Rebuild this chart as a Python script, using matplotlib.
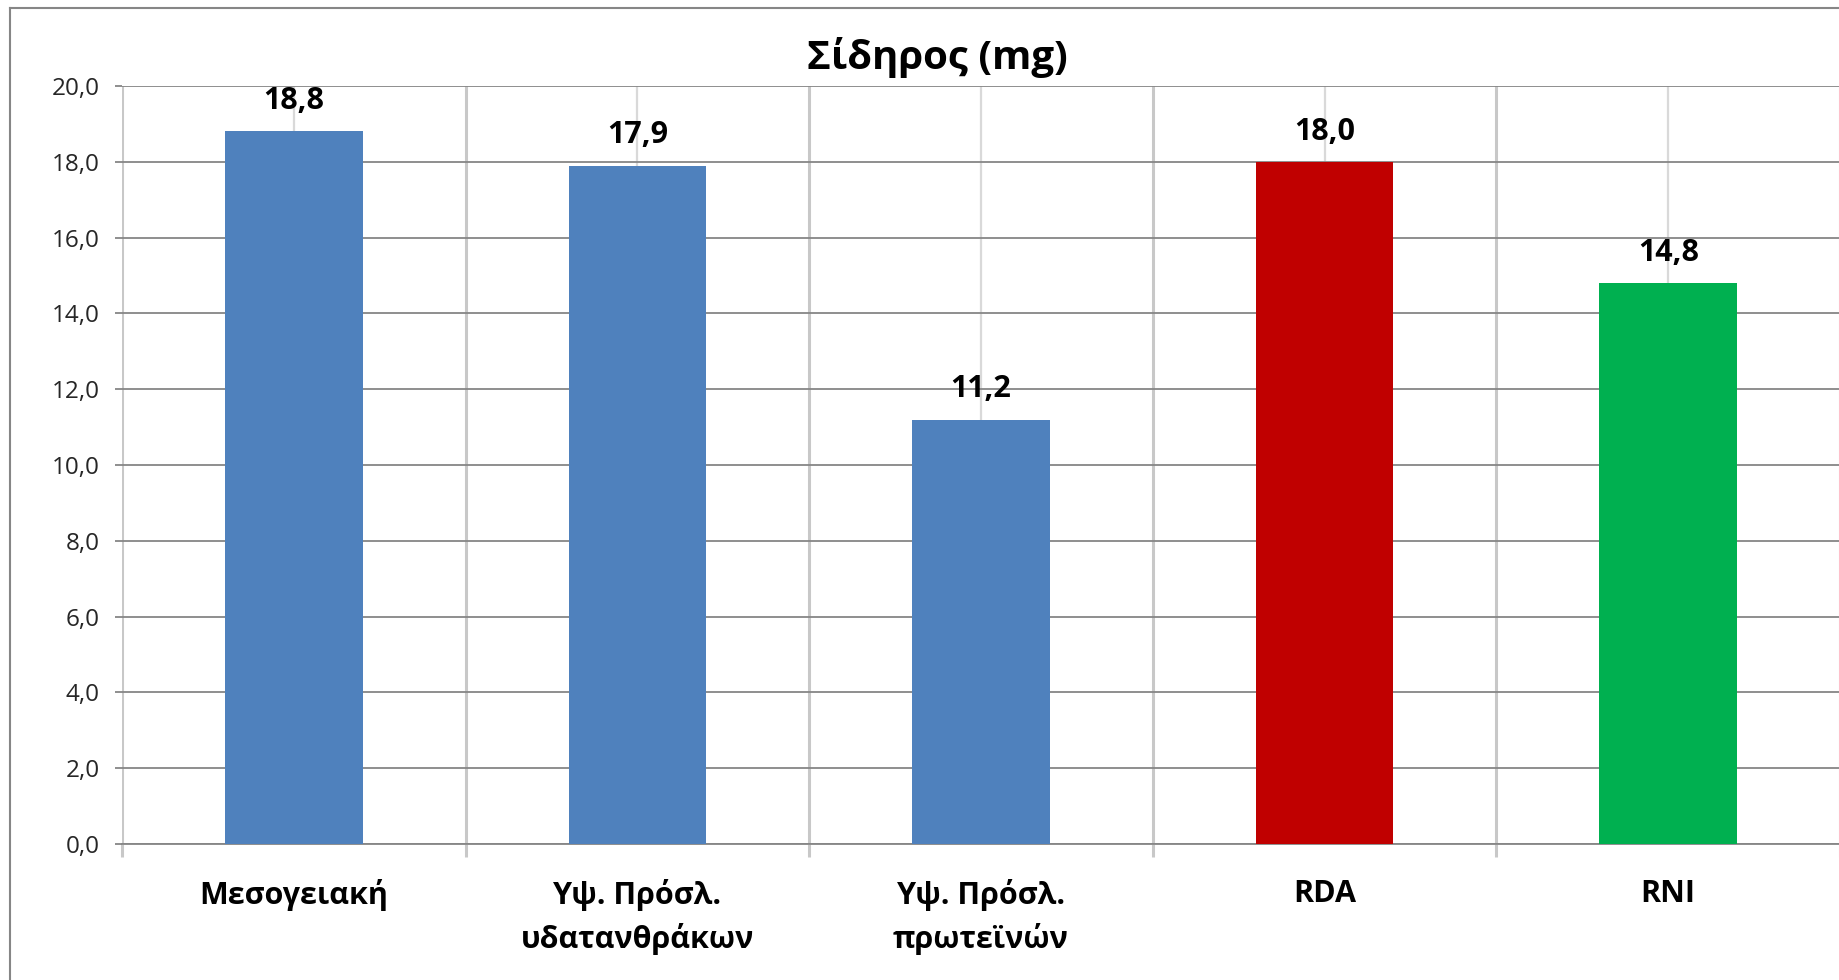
import matplotlib as mpl
import matplotlib.pyplot as plt
import numpy as np
from matplotlib.lines import Line2D
from matplotlib.ticker import FixedLocator, FuncFormatter

params = {
    "font.family": ["Open Sans", "DejaVu Sans"],
    "figure.dpi": 100,
}
mpl.rcParams.update(params)

categories = ["Μεσογειακή", "Υψ. Πρόσλ.\nυδατανθράκων", "Υψ. Πρόσλ.\nπρωτεϊνών", "RDA", "RNI"]
values = [18.8, 17.9, 11.2, 18.0, 14.8]
bar_colors = ["#4F81BD", "#4F81BD", "#4F81BD", "#C00000", "#00B050"]
title = "Σίδηρος (mg)"

W, H = 1840, 980
fig = plt.figure(figsize=(W / 100, H / 100), dpi=100)
ax = fig.add_axes([122 / W, 1 - 844 / H, (W - 122) / W, (844 - 86) / H])

x = np.arange(len(categories))
ax.bar(x, values, width=0.4, color=bar_colors, zorder=3)

for xi, v in zip(x, values):
    ax.annotate(f"{v:.1f}".replace(".", ","), (xi, v), xytext=(0, 11),
                textcoords="offset points", ha="center", va="bottom",
                fontsize=22, fontweight="bold", color="black", zorder=4)

ax.set_xlim(-0.5, len(categories) - 0.5)
ax.set_ylim(0, 20)
ax.set_yticks(np.arange(0, 20.1, 2))
ax.yaxis.set_major_formatter(FuncFormatter(lambda v, p: f"{v:.1f}".replace(".", ",")))
ax.set_axisbelow(True)

# horizontal grid
ax.grid(axis="y", color="#868686", linewidth=1.3)
ax.tick_params(axis="y", length=5, width=1.3, color="#868686", pad=11,
               labelsize=17.5, labelcolor="#262626")

# vertical lines: light at centers, darker at category boundaries
ax.set_xticks(x)
ax.set_xticklabels(categories, fontsize=22, fontweight="bold", linespacing=1.5)
ax.xaxis.set_minor_locator(FixedLocator(np.arange(-0.5, len(categories), 1.0)))
ax.grid(axis="x", which="major", color="#d9d9d9", linewidth=1.6)
ax.grid(axis="x", which="minor", color="#c8c8c8", linewidth=2.2)
ax.tick_params(axis="x", which="major", length=0, pad=25)
ax.tick_params(axis="x", which="minor", length=9, width=2.2, color="#c8c8c8")

for s in ["top", "right", "left"]:
    ax.spines[s].set_visible(False)
ax.spines["bottom"].set_color("#868686")
ax.spines["bottom"].set_linewidth(1.3)

ax.set_title(title, fontsize=29, fontweight="bold", pad=12, x=(937 - 122) / (W - 122))

# chart frame
fig.add_artist(Line2D([10 / W, 10 / W], [0, 1 - 8 / H], transform=fig.transFigure,
                      color="#868686", linewidth=1.5))
fig.add_artist(Line2D([10 / W, 1], [1 - 8 / H, 1 - 8 / H], transform=fig.transFigure,
                      color="#868686", linewidth=1.5))

fig.savefig("out.png", dpi=100)
